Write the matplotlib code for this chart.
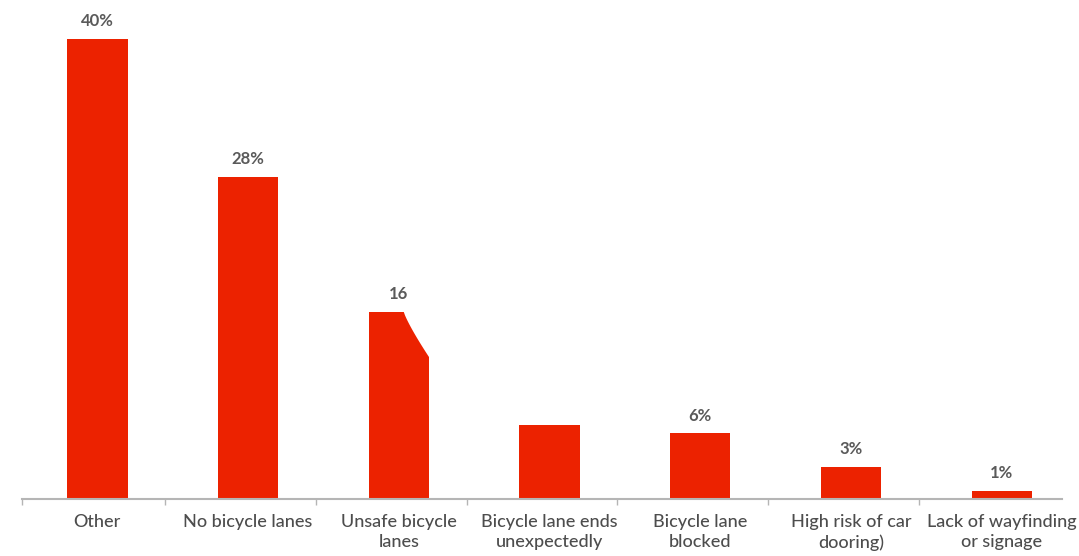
import matplotlib.pyplot as plt
import numpy as np
from matplotlib.patches import Polygon

categories = ["Other", "No bicycle lanes", "Unsafe bicycle\nlanes", "Bicycle lane ends\nunexpectedly",
              "Bicycle lane\nblocked", "High risk of car\ndooring)", "Lack of wayfinding\nor signage"]
values = [40, 28, 16.3, 6.4, 5.7, 2.8, 0.7]
value_labels = ["40%", "28%", "16", "", "6%", "3%", "1%"]

RED = "#EC2200"
GREY_TEXT = "#4d4d4d"
GREY_AXIS = "#b5b5b5"

plt.rcParams["font.family"] = ["Lato", "DejaVu Sans"]

fig = plt.figure(figsize=(10.79, 5.56), dpi=100)
ax = fig.add_axes([22 / 1079, 57 / 556, 1040 / 1079, 483 / 556])

x = np.arange(len(categories))
bars = ax.bar(x, values, width=0.4, color=RED, zorder=2)

for bar, lab in zip(bars, value_labels):
    if lab:
        ax.annotate(lab, (bar.get_x() + bar.get_width() / 2, bar.get_height()),
                    xytext=(0, 7), textcoords="offset points", ha="center", va="bottom",
                    fontsize=12, fontweight="bold", color="#5a5a5a")

# the odd cut-off corner on the third bar
b = bars[2]
x0, w, top = b.get_x(), b.get_width(), b.get_height()
t = np.linspace(0, 1, 20)
cx = x0 + w * (0.58 + 0.42 * t)
cy = top - 3.95 * (t ** 0.85)
pts = list(zip(cx, cy)) + [(x0 + w * 1.05, top - 3.95), (x0 + w * 1.05, top + 0.1), (x0 + w * 0.58, top + 0.1)]
ax.add_patch(Polygon(pts, closed=True, facecolor="white", edgecolor="none", zorder=3))

ax.set_xlim(-0.5, 6.4)
ax.set_ylim(0, 42)

ax.set_xticks(x)
ax.set_xticklabels(categories, fontsize=13, fontweight="medium", color=GREY_TEXT, linespacing=1.3)
ax.tick_params(axis="x", which="major", length=0, pad=11)
ax.set_xticks(np.append(x[:-1] + 0.45, [-0.5]), minor=True)
ax.tick_params(axis="x", which="minor", length=4, color=GREY_AXIS, width=1)
ax.set_yticks([])

for s in ["top", "right", "left"]:
    ax.spines[s].set_visible(False)
ax.spines["bottom"].set_color(GREY_AXIS)
ax.spines["bottom"].set_linewidth(1.5)

fig.savefig("out.png", dpi=100)
